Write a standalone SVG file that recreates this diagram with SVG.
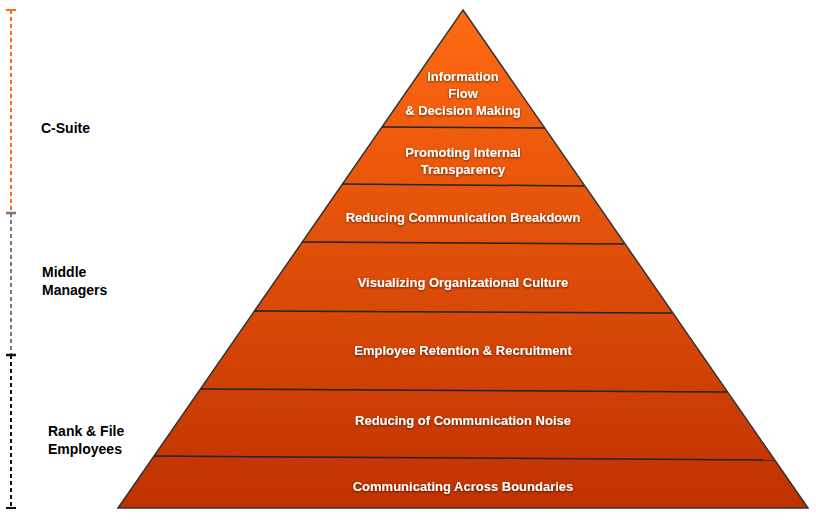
<svg xmlns="http://www.w3.org/2000/svg" width="816" height="520" viewBox="0 0 816 520">
<defs>
<linearGradient id="g" x1="0" y1="10" x2="0" y2="508" gradientUnits="userSpaceOnUse">
<stop offset="0" stop-color="#ff6a12"/><stop offset="1" stop-color="#bf3200"/></linearGradient>
<filter id="sh" x="-10%" y="-30%" width="120%" height="160%"><feDropShadow dx="0" dy="1" stdDeviation="0.8" flood-color="#000" flood-opacity="0.6"/></filter>
</defs>
<style>
.t{font-family:"Liberation Sans",Arial,sans-serif;font-weight:bold;font-size:13px;fill:#fff;text-anchor:middle;filter:url(#sh)}
.l{font-family:"Liberation Sans",Arial,sans-serif;font-weight:bold;font-size:14px;fill:#000}
.d{stroke:#222;stroke-width:1.5}
</style>
<rect width="816" height="520" fill="#fff"/>
<g id="scale">
<line x1="11" y1="10" x2="11" y2="213" stroke="#ff6a1a" stroke-width="2" stroke-dasharray="4,3"/>
<line x1="11" y1="213" x2="11" y2="355" stroke="#777" stroke-width="2" stroke-dasharray="4,3"/>
<line x1="11" y1="355" x2="11" y2="508" stroke="#111" stroke-width="2" stroke-dasharray="4,3"/>
<line x1="6" y1="10" x2="16" y2="10" stroke="#ff6a1a" stroke-width="2"/>
<line x1="6" y1="213" x2="16" y2="213" stroke="#777" stroke-width="2.5"/>
<line x1="6" y1="355" x2="16" y2="355" stroke="#111" stroke-width="2.5"/>
<line x1="6" y1="508" x2="16" y2="508" stroke="#111" stroke-width="2"/>
<text class="l" x="41" y="133">C-Suite</text>
<text class="l" x="42" y="277">Middle</text><text class="l" x="42" y="295">Managers</text>
<text class="l" x="48" y="436">Rank &amp; File</text><text class="l" x="48" y="454">Employees</text>
</g>
<g id="pyramid">
<polygon points="463,10 808,508 118,508" fill="url(#g)" stroke="#333" stroke-width="1.5"/>
</g>
<g id="connectors">
<line class="d" x1="382" y1="127" x2="545" y2="128"/>
<line class="d" x1="342" y1="184" x2="584" y2="186"/>
<line class="d" x1="302" y1="242" x2="624" y2="244"/>
<line class="d" x1="254" y1="311" x2="672" y2="313"/>
<line class="d" x1="201" y1="389" x2="727" y2="392"/>
<line class="d" x1="154" y1="456" x2="773" y2="460"/>
</g>
<g id="n1"><text class="t" x="463" y="81">Information</text><text class="t" x="463" y="98">Flow</text><text class="t" x="463" y="115">&amp; Decision Making</text></g>
<g id="n2"><text class="t" x="463" y="157">Promoting Internal</text><text class="t" x="463" y="174">Transparency</text></g>
<g id="n3"><text class="t" x="463" y="222">Reducing Communication Breakdown</text></g>
<g id="n4"><text class="t" x="463" y="287">Visualizing Organizational Culture</text></g>
<g id="n5"><text class="t" x="463" y="355">Employee Retention &amp; Recruitment</text></g>
<g id="n6"><text class="t" x="463" y="425">Reducing of Communication Noise</text></g>
<g id="n7"><text class="t" x="463" y="491">Communicating Across Boundaries</text></g>
</svg>
